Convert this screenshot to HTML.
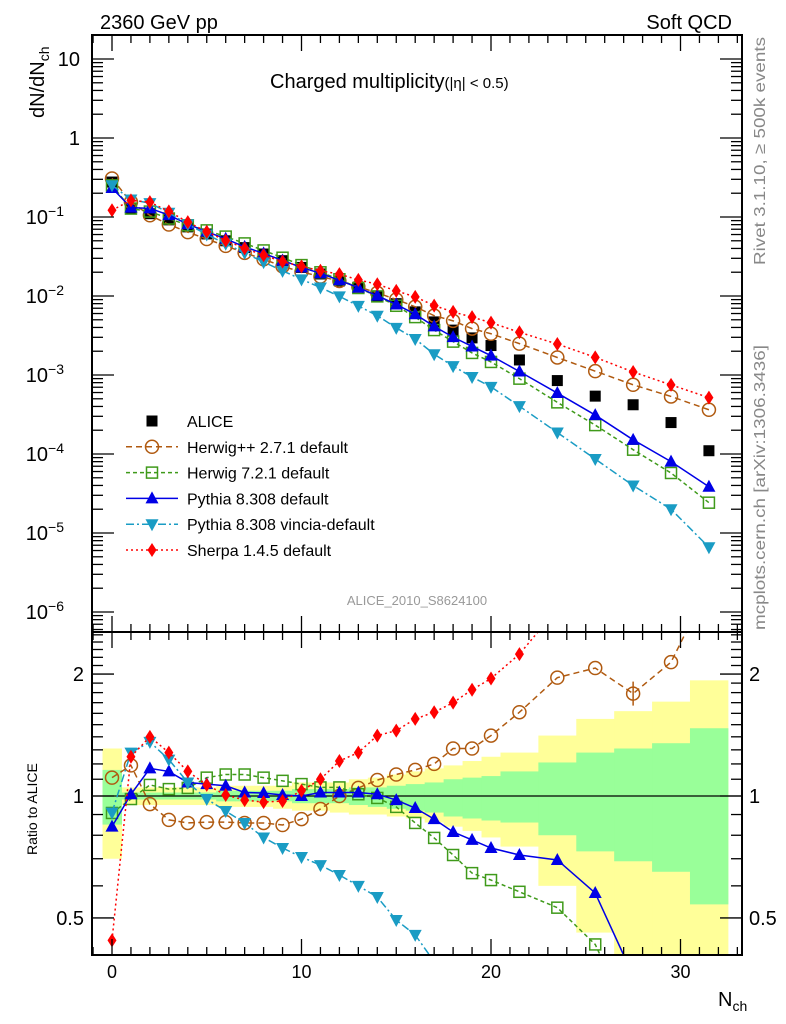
<!DOCTYPE html>
<html><head><meta charset="utf-8"><style>
html,body{margin:0;padding:0;background:#fff;overflow:hidden;width:786px;height:1024px;}
svg{display:block;font-family:"Liberation Sans",sans-serif;}
</style></head><body>
<svg id="chart" width="786" height="1024" viewBox="0 0 786 1024" xmlns="http://www.w3.org/2000/svg">
<defs>
<clipPath id="clipMain"><rect x="92" y="35" width="650" height="597"/></clipPath>
<clipPath id="clipRatio"><rect x="92" y="632" width="650" height="323"/></clipPath>
</defs>
<text x="100" y="29" font-size="20">2360 GeV pp</text>
<text x="732" y="29" font-size="20" text-anchor="end">Soft QCD</text>
<text x="270" y="88" font-size="20">Charged multiplicity<tspan font-size="15">(|η| &lt; 0.5)</tspan></text>
<text transform="translate(44,118) rotate(-90)" font-size="20">dN/dN<tspan font-size="14" dy="5">ch</tspan></text>
<text transform="translate(37,855) rotate(-90)" font-size="14">Ratio to ALICE</text>
<text transform="translate(765,265) rotate(-90)" font-size="16" fill="#888" textLength="228" lengthAdjust="spacingAndGlyphs">Rivet 3.1.10, ≥ 500k events</text>
<text transform="translate(765,630) rotate(-90)" font-size="16" fill="#888" textLength="285" lengthAdjust="spacingAndGlyphs">mcplots.cern.ch [arXiv:1306.3436]</text>
<text x="417" y="605" font-size="13" fill="#999" text-anchor="middle">ALICE_2010_S8624100</text>
<text x="718" y="1006" font-size="20">N<tspan font-size="14" dy="5">ch</tspan></text>
<g id="bands"></g>
<g id="ratioSeries"></g>
<g id="mainSeries"></g>
<g id="axes"></g>
<g id="legend"></g>
</svg>
<script>
const nch = [0,1,2,3,4,5,6,7,8,9,10,11,12,13,14,15,16,17,18,19,20,21.5,23.5,25.5,27.5,29.5,31.5];
const binLo = [-0.5,0.5,1.5,2.5,3.5,4.5,5.5,6.5,7.5,8.5,9.5,10.5,11.5,12.5,13.5,14.5,15.5,16.5,17.5,18.5,19.5,20.5,22.5,24.5,26.5,28.5,30.5];
const binHi = [0.5,1.5,2.5,3.5,4.5,5.5,6.5,7.5,8.5,9.5,10.5,11.5,12.5,13.5,14.5,15.5,16.5,17.5,18.5,19.5,20.5,22.5,24.5,26.5,28.5,30.5,32.5];
const alice = [0.277,0.13,0.11,0.092,0.075,0.061,0.050,0.041,0.034,0.028,0.023,0.019,0.0155,0.0125,0.010,0.0080,0.0063,0.0047,0.0037,0.00295,0.00236,0.00155,0.00085,0.00054,0.00042,0.00025,0.00011];
const yellowHi = [1.31,1.05,1.05,1.05,1.05,1.05,1.06,1.06,1.06,1.06,1.08,1.08,1.08,1.10,1.11,1.13,1.15,1.17,1.19,1.22,1.25,1.28,1.41,1.55,1.62,1.71,1.93];
const yellowLo = [0.70,0.95,0.95,0.95,0.95,0.95,0.94,0.94,0.94,0.93,0.92,0.92,0.91,0.90,0.90,0.89,0.88,0.86,0.84,0.82,0.79,0.75,0.60,0.46,0.30,0.30,0.30];
const greenHi = [1.16,1.02,1.02,1.02,1.02,1.02,1.03,1.03,1.03,1.03,1.04,1.04,1.04,1.05,1.05,1.06,1.07,1.08,1.10,1.11,1.12,1.15,1.21,1.28,1.31,1.35,1.47];
const greenLo = [0.85,0.98,0.98,0.98,0.98,0.98,0.97,0.97,0.97,0.97,0.96,0.96,0.96,0.95,0.94,0.93,0.92,0.91,0.89,0.88,0.87,0.86,0.80,0.73,0.69,0.65,0.54];
const herwigPPRatio = [1.11,1.19,0.955,0.873,0.858,0.862,0.862,0.858,0.858,0.848,0.877,0.929,1.0,1.047,1.095,1.13,1.16,1.2,1.31,1.31,1.41,1.61,1.96,2.07,1.79,2.14,3.3];
const herwig7Ratio = [0.908,0.983,1.065,1.04,1.047,1.11,1.13,1.13,1.11,1.09,1.07,1.05,1.05,1.01,0.989,0.94,0.858,0.788,0.715,0.645,0.62,0.58,0.53,0.43,0.27,0.23,0.22];
const pythiaRatio = [0.84,1.01,1.17,1.15,1.08,1.07,1.06,1.02,1.017,1.006,1.0,1.02,1.02,1.02,1.01,0.977,0.934,0.877,0.815,0.779,0.744,0.715,0.695,0.576,0.36,0.32,0.35];
const vinciaRatio = [0.91,1.28,1.36,1.23,1.08,0.983,0.918,0.858,0.79,0.744,0.707,0.675,0.638,0.6,0.563,0.494,0.454,0.39,0.35,0.32,0.30,0.26,0.22,0.16,0.095,0.08,0.06];
const sherpaRatio = [0.44,1.25,1.40,1.28,1.15,1.065,1.006,0.977,0.966,0.972,1.03,1.10,1.22,1.28,1.41,1.45,1.55,1.61,1.70,1.83,1.95,2.24,2.9,3.1,2.6,3.0,4.7];
const legendLabels = ["ALICE","Herwig++ 2.7.1 default","Herwig 7.2.1 default","Pythia 8.308 default","Pythia 8.308 vincia-default","Sherpa 1.4.5 default"];
const xTicks = [0,10,20,30];
const ratioTicks = [0.5,1,2];

const NS="http://www.w3.org/2000/svg";
const X0=92,X1=742,YT=35,YM=632,YB=955;
function xs(n){return 112+n*18.95;}
function ys(v){return 59+(1-Math.log10(v))*79;}
function yr(r){return 796-Math.log10(r)*405;}
function mk(tag,attrs,parent){const e=document.createElementNS(NS,tag);for(const k in attrs)e.setAttribute(k,attrs[k]);parent.appendChild(e);return e;}
const G=id=>document.getElementById(id);
const clampR=y=>Math.max(YM,Math.min(YB,y));

const bandsG=G('bands');
for(let i=0;i<nch.length;i++){
  const t=clampR(yr(yellowHi[i])), b=clampR(yr(yellowLo[i]));
  const ry=mk('rect',{x:xs(binLo[i]),y:t,width:xs(binHi[i])-xs(binLo[i])+0.5,height:b-t,fill:'#ffff99'},bandsG);
  
  
}
for(let i=0;i<nch.length;i++){
  const t=clampR(yr(greenHi[i])), b=clampR(yr(greenLo[i]));
  const rg=mk('rect',{x:xs(binLo[i]),y:t,width:xs(binHi[i])-xs(binLo[i])+0.5,height:b-t,fill:'#99ff99'},bandsG);
  
  
}
const oneLine=mk('line',{x1:X0,x2:X1,y1:yr(1),y2:yr(1),stroke:'#000','stroke-width':1.2},bandsG);



function marker(g,type,x,y,color){
  let e;
  if(type==='sq') e=mk('rect',{x:x-5.5,y:y-5.5,width:11,height:11,fill:'#000'},g);
  else if(type==='circ') e=mk('circle',{cx:x,cy:y,r:6.5,fill:'none',stroke:color,'stroke-width':1.5},g);
  else if(type==='osq') e=mk('rect',{x:x-5.5,y:y-5.5,width:11,height:11,fill:'none',stroke:color,'stroke-width':1.5},g);
  else if(type==='tri') e=mk('polygon',{points:`${x},${y-7} ${x-6.5},${y+5} ${x+6.5},${y+5}`,fill:color},g);
  else if(type==='itri') e=mk('polygon',{points:`${x},${y+7} ${x-6.5},${y-5} ${x+6.5},${y-5}`,fill:color},g);
  else if(type==='dia') e=mk('polygon',{points:`${x},${y-7} ${x-4.5},${y} ${x},${y+7} ${x+4.5},${y}`,fill:color},g);
  return e;
}
// clip a polyline to the y-range [lo,hi]; returns array of point-lists
function clipPoly(pts,lo,hi){
  const out=[];let cur=[];
  for(let i=0;i<pts.length-1;i++){
    let [x1,y1]=pts[i],[x2,y2]=pts[i+1];
    if((y1<lo&&y2<lo)||(y1>hi&&y2>hi)){if(cur.length)out.push(cur);cur=[];continue;}
    const cut=(x1,y1,x2,y2,yy)=>[x1+(x2-x1)*(yy-y1)/(y2-y1),yy];
    let a=[x1,y1],b=[x2,y2];
    if(y1<lo)a=cut(x1,y1,x2,y2,lo); else if(y1>hi)a=cut(x1,y1,x2,y2,hi);
    if(y2<lo)b=cut(x1,y1,x2,y2,lo); else if(y2>hi)b=cut(x1,y1,x2,y2,hi);
    if(!cur.length)cur.push(a);
    cur.push(b);
    if(b[1]!==y2){out.push(cur);cur=[];}
  }
  if(cur.length)out.push(cur);
  return out;
}
const series=[
 {name:'herwigpp',ratio:herwigPPRatio,color:'#b05a10',type:'circ',dash:'6,4',w:1.5},
 {name:'herwig7',ratio:herwig7Ratio,color:'#3f9a1a',type:'osq',dash:'4,3',w:1.5},
 {name:'pythia',ratio:pythiaRatio,color:'#0000e6',type:'tri',dash:'',w:1.5},
 {name:'vincia',ratio:vinciaRatio,color:'#1a9cc4',type:'itri',dash:'8,3,2,3',w:1.5},
 {name:'sherpa',ratio:sherpaRatio,color:'#ff0000',type:'dia',dash:'2,3',w:1.5}
];
const mainG=G('mainSeries'), ratioG=G('ratioSeries');
for(let i=0;i<nch.length;i++){
  const m=marker(mainG,'sq',xs(nch[i]),ys(alice[i]));
  
  
}
series.forEach(s=>{
  const ptsMain=nch.map((n,i)=>`${xs(n)},${ys(alice[i]*s.ratio[i])}`).join(' ');
  const lm=mk('polyline',{points:ptsMain,fill:'none',stroke:s.color,'stroke-width':s.w,'stroke-dasharray':s.dash},mainG);
  
  
  const rp=nch.map((n,i)=>[xs(n),yr(s.ratio[i])]);
  clipPoly(rp,YM,YB).forEach(seg=>{
    const lr=mk('polyline',{points:seg.map(p=>p.join(',')).join(' '),fill:'none',stroke:s.color,'stroke-width':s.w,'stroke-dasharray':s.dash},ratioG);
    
    
  });
  for(let i=0;i<nch.length;i++){
    const a=marker(mainG,s.type,xs(nch[i]),ys(alice[i]*s.ratio[i]),s.color);
    
    
    const y=yr(s.ratio[i]);
    if(y<YM+4||y>YB-4) continue;
    const b=marker(ratioG,s.type,xs(nch[i]),y,s.color);
    
    
  }
});
const eb=mk('line',{x1:xs(27.5),x2:xs(27.5),y1:yr(1.79)-12,y2:yr(1.79)+12,stroke:'#b05a10','stroke-width':1.5},ratioG);



const ax=G('axes');
const fr1=mk('rect',{x:X0,y:YT,width:X1-X0,height:YM-YT,fill:'none',stroke:'#000','stroke-width':2},ax);


const fr2=mk('rect',{x:X0,y:YM,width:X1-X0,height:YB-YM,fill:'none',stroke:'#000','stroke-width':2},ax);


function tick(x1,y1,x2,y2){const t=mk('line',{x1,y1,x2,y2,stroke:'#000','stroke-width':1.3},ax);}
for(let n=-1;n<=33;n++){
  const x=xs(n), L=(n%10===0)?16:8;
  [[YT,1],[YM,-1],[YM,1],[YB,-1]].forEach(([y,d])=>tick(x,y,x,y+d*L));
}
xTicks.forEach(n=>{
  const t=mk('text',{x:xs(n),y:978,'font-size':18,'text-anchor':'middle'},ax);
  t.textContent=n;
  
  
});
for(let e=-7;e<=1;e++){
  for(let k=1;k<=9;k++){
    const v=k*Math.pow(10,e), y=ys(v);
    if(y<YT||y>YM) continue;
    const L=k===1?22:11;
    tick(X0,y,X0+L,y); tick(X1,y,X1-L,y);
  }
}
const decLabels=[[10,'10',''],[1,'1',''],[0.1,'10','−1'],[0.01,'10','−2'],[0.001,'10','−3'],[1e-4,'10','−4'],[1e-5,'10','−5'],[1e-6,'10','−6']];
decLabels.forEach(([v,b,sup])=>{
  const t=mk('text',{x:sup?64:80,y:ys(v)+7,'font-size':20,'text-anchor':'end'},ax);
  t.textContent=b;
  if(sup){const s=mk('tspan',{'font-size':14,dy:-8},t);s.textContent=sup;}
  
  
});
for(let i=3;i<=25;i++){
  const r=i/10, y=yr(r);
  if(y<YM||y>YB) continue;
  const major=(i===5||i===10||i===20);
  const L=major?22:11;
  tick(X0,y,X0+L,y); tick(X1,y,X1-L,y);
}
ratioTicks.forEach(r=>{
  [[84,'end'],[749,'start']].forEach(([x,a])=>{
    const t=mk('text',{x:x,y:yr(r)+7,'font-size':20,'text-anchor':a},ax);
    t.textContent=r;
    
    
  });
});
const lg=G('legend');
const legSeries=[{type:'sq',color:'#000',dash:null}].concat(series);
legendLabels.forEach((lab,i)=>{
  const y=421+i*25.8, s=legSeries[i];
  const g=mk('g',{},lg);
  
  
  if(s.dash!==null){mk('line',{x1:126,x2:178,y1:y,y2:y,stroke:s.color,'stroke-width':1.5,'stroke-dasharray':s.dash},g);}
  marker(g,s.type,152,y,s.color);
  const t=mk('text',{x:187,y:y+6,'font-size':16},g);
  t.textContent=lab;
});
</script>
</body></html>
